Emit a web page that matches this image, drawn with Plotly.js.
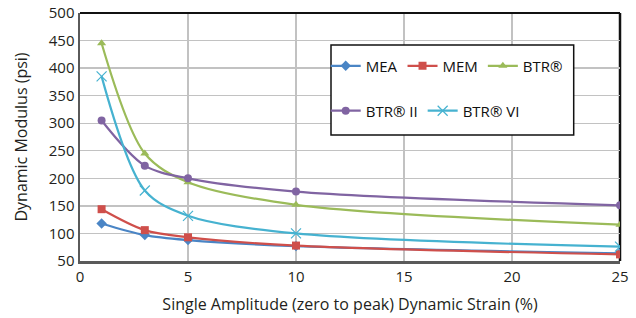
<!DOCTYPE html>
<html>
<head>
<meta charset="utf-8">
<script src="https://cdn.plot.ly/plotly-3.0.1.min.js"></script>
<style>html,body{margin:0;padding:0;background:#fff;}#chart{width:636px;height:318px;}</style>
</head>
<body>
<div id="chart"></div>
<script>
const strain = [1, 3, 5, 10, 25];
const seriesNames = ["MEA", "MEM", "BTR®", "BTR® II", "BTR® VI"];
const mea = [118, 97, 88, 77, 64];
const mem = [144, 106, 93, 78, 62];
const btr = [445, 245, 193, 152, 116];
const btr2 = [305, 223, 200, 176, 151];
const btr6 = [385, 178, 132, 100, 76];
const xTicks = [0, 5, 10, 15, 20, 25];
const yTicks = [50, 100, 150, 200, 250, 300, 350, 400, 450, 500];

const colors = ["#4a85c5", "#cf4f4b", "#9bbb59", "#8064a2", "#46b2d0"];
const symbols = ["diamond", "square", "triangle-up", "circle", "x-thin-open"];
const values = [mea, mem, btr, btr2, btr6];
const legendFor = ["legend", "legend", "legend", "legend2", "legend2"];

const traces = values.map((v, i) => ({
  x: strain, y: v, name: seriesNames[i], type: "scatter", mode: "lines+markers",
  line: {color: colors[i], width: 2.2, shape: "spline", smoothing: 0.9},
  marker: {symbol: symbols[i], size: i === 4 ? 10 : 8, color: colors[i],
           line: {color: colors[i], width: i === 4 ? 1.2 : 0}},
  legend: legendFor[i]
}));

const fam = "Open Sans, Noto Sans, sans-serif";
const font = {family: fam, size: 15, color: "#231f20"};
const legendCommon = {orientation: "h", xanchor: "left", yanchor: "middle", bgcolor: "rgba(0,0,0,0)",
  borderwidth: 0, font: {family: fam, size: 15, color: "#111"}, itemwidth: 30, traceorder: "normal"};

const layout = {
  width: 636, height: 318,
  margin: {l: 80, r: 16, t: 13, b: 57},
  paper_bgcolor: "#fff", plot_bgcolor: "#fff",
  font: font,
  showlegend: true,
  xaxis: {range: [0, 25], tickvals: xTicks, ticktext: xTicks.map(String), showgrid: true, gridcolor: "#c2c2c2",
          gridwidth: 1.3, zeroline: false, showline: true, linecolor: "#5a5a5a", linewidth: 2.5, ticks: "",
          tickfont: {size: 15},
          title: {text: "Single Amplitude (zero to peak) Dynamic Strain (%)", font: {size: 16}, standoff: 15}},
  yaxis: {range: [50, 500], tickvals: yTicks, ticktext: yTicks.map(String), showgrid: true, gridcolor: "#c2c2c2",
          gridwidth: 1.3, zeroline: false, showline: true, linecolor: "#5a5a5a", linewidth: 2.5, ticks: "",
          tickfont: {size: 15},
          title: {text: "Dynamic Modulus (psi)", font: {size: 16}, standoff: 17}},
  legend: Object.assign({x: 0.455, y: 0.786}, legendCommon),
  legend2: Object.assign({x: 0.455, y: 0.605}, legendCommon),
  shapes: [
    {type: "rect", xref: "paper", yref: "paper", x0: 0.465, x1: 0.8, y0: 0.508, y1: 0.871,
     fillcolor: "#fff", line: {color: "#111", width: 1.5}, layer: "above"},
    {type: "line", xref: "paper", yref: "paper", x0: 0, x1: 1, y0: 1, y1: 1, line: {color: "#111", width: 2}, layer: "above"},
    {type: "line", xref: "paper", yref: "paper", x0: 1, x1: 1, y0: 0, y1: 1, line: {color: "#111", width: 2.5}, layer: "below"}
  ]
};

Plotly.newPlot("chart", traces, layout, {displayModeBar: false, staticPlot: true}).then(gd => {
  // fit the legend frame around both legend groups as drawn by the library
  const boxes = Array.from(gd.querySelectorAll("g.legend, g.legend2, g[class^='legend']"))
    .map(g => g.getBBox && g.getBoundingClientRect()).filter(b => b && b.width > 0);
  if (!boxes.length) return;
  const root = gd.getBoundingClientRect();
  const right = Math.max(...boxes.map(b => b.right)) - root.left;
  const x0 = (331 - 80) / 540;
  const x1 = Math.max(0.8, (right + 6 - 80) / 540);
  Plotly.relayout(gd, {"shapes[0].x0": x0, "shapes[0].x1": x1});
});
</script>
</body>
</html>
